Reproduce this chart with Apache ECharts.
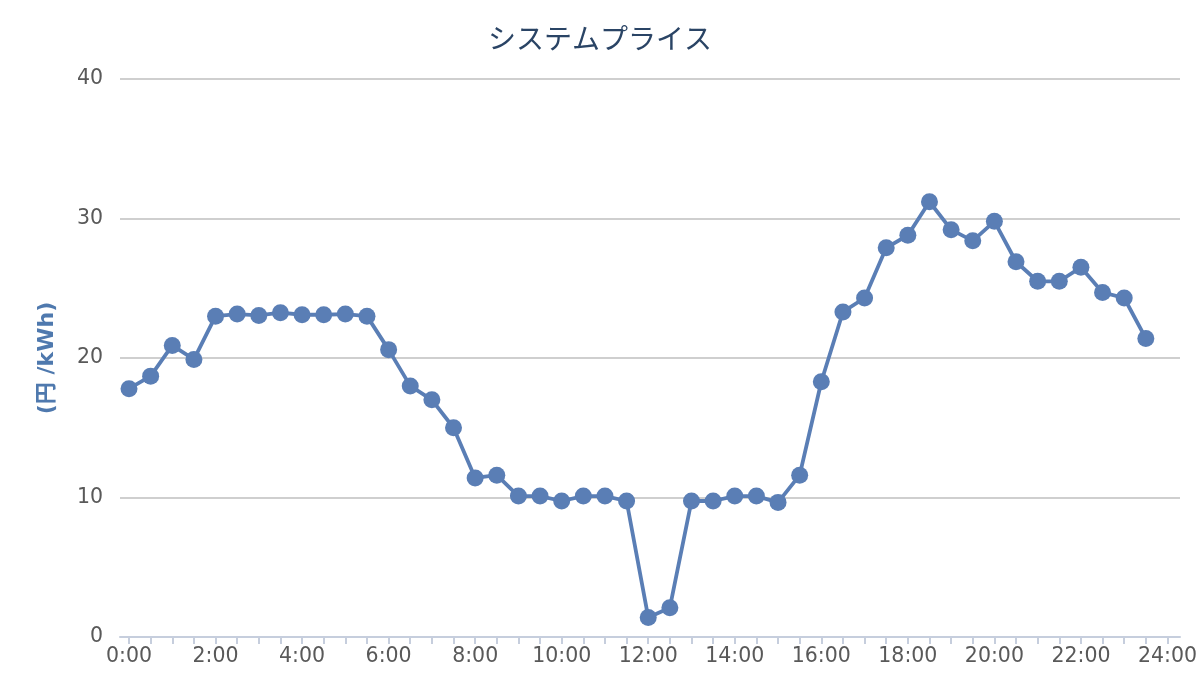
<!DOCTYPE html>
<html>
<head>
<meta charset="utf-8">
<script src="https://cdn.jsdelivr.net/npm/echarts@6/dist/echarts.min.js"></script>
<style>html,body{margin:0;padding:0;background:#fff}#c{width:1200px;height:700px}</style>
</head>
<body>
<div id="c"></div>
<script>
const titleText = 'システムプライス';
const yAxisName = '(円 /kWh)';
const times = ['0:00','0:30','1:00','1:30','2:00','2:30','3:00','3:30','4:00','4:30','5:00','5:30',
  '6:00','6:30','7:00','7:30','8:00','8:30','9:00','9:30','10:00','10:30','11:00','11:30',
  '12:00','12:30','13:00','13:30','14:00','14:30','15:00','15:30','16:00','16:30','17:00','17:30',
  '18:00','18:30','19:00','19:30','20:00','20:30','21:00','21:30','22:00','22:30','23:00','23:30'];
const prices = [17.8,18.7,20.9,19.9,23.0,23.15,23.05,23.25,23.1,23.1,23.15,23.0,
  20.6,18.0,17.0,15.0,11.4,11.6,10.1,10.1,9.75,10.1,10.1,9.75,
  1.4,2.1,9.75,9.75,10.1,10.1,9.65,11.6,18.3,23.3,24.3,27.9,
  28.8,31.2,29.2,28.4,29.8,26.9,25.5,25.5,26.5,24.7,24.3,21.4];
const xMin = 0, xMax = 24, xStep = 0.5;
const yMin = 0, yMax = 40, yStep = 10;

function toHours(t){ const p = t.split(':'); return +p[0] + (+p[1])/60; }
const seriesData = times.map((t,i)=>[toHours(t), prices[i]]);

const chart = echarts.init(document.getElementById('c'), null, {renderer:'canvas'});
const labelColor = '#595959';
const axisBlue = '#c6cedd';
const lineColor = '#5a7eb5';
chart.setOption({
  animation:false,
  backgroundColor:'#ffffff',
  title:{
    text:titleText, left:'center', top:19,
    textStyle:{fontSize:28, fontWeight:'normal', color:'#2a4465', fontFamily:'"Noto Sans CJK JP", sans-serif'}
  },
  grid:[
    {left:120, right:20, top:79, bottom:63},
    {left:129, right:31, top:79, bottom:63}
  ],
  xAxis:[
    {type:'value', gridIndex:0, min:0, max:1, axisLine:{show:true, lineStyle:{color:axisBlue, width:2}},
     axisTick:{show:false}, axisLabel:{show:false}, splitLine:{show:false}},
    {type:'value', gridIndex:1, min:xMin, max:xMax, interval:xStep,
     axisLine:{show:false},
     axisTick:{show:true, length:7, lineStyle:{color:axisBlue, width:2}},
     splitLine:{show:false},
     axisLabel:{margin:9, fontSize:20.5, color:labelColor, fontFamily:'"DejaVu Sans", sans-serif',
       formatter:v=> (Math.abs(v % 2) < 1e-6) ? (Math.round(v) + ':00') : ''}}
  ],
  yAxis:[
    {type:'value', gridIndex:0, min:yMin, max:yMax, interval:yStep,
     name:yAxisName, nameLocation:'middle', nameRotate:90, nameGap:62,
     nameTextStyle:{fontSize:22, fontWeight:'bold', color:'#4f79ae', fontFamily:'"DejaVu Sans", "Noto Sans CJK JP", sans-serif'},
     axisLine:{show:false}, axisTick:{show:false},
     axisLabel:{margin:17, fontSize:20.5, color:labelColor, fontFamily:'"DejaVu Sans", sans-serif'},
     splitLine:{show:true, showMinLine:false, lineStyle:{color:'#bfbfbf', width:1.5}}},
    {type:'value', gridIndex:1, min:yMin, max:yMax, interval:yStep, show:false, splitLine:{show:false}}
  ],
  series:[{
    type:'line', xAxisIndex:1, yAxisIndex:1, data:seriesData,
    symbol:'circle', symbolSize:17,
    lineStyle:{color:lineColor, width:3.8},
    itemStyle:{color:lineColor}
  }]
});
</script>
</body>
</html>
